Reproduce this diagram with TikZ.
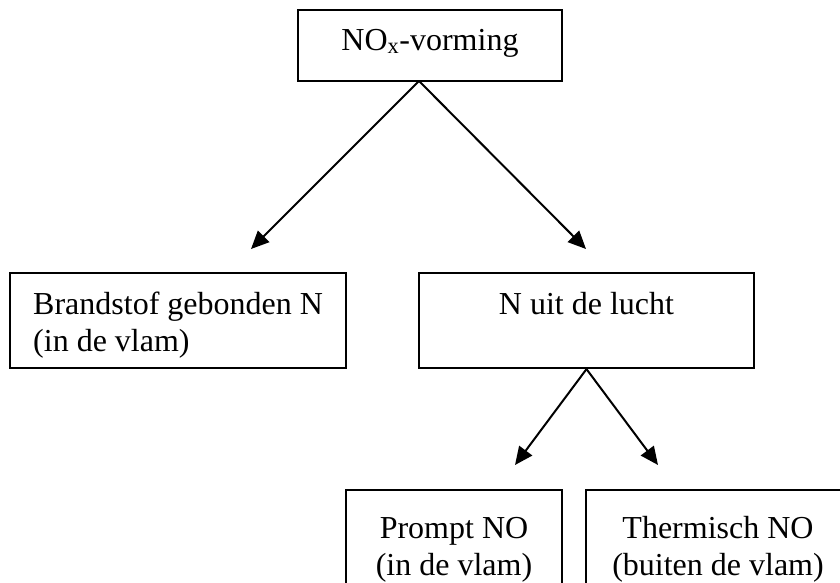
\documentclass[tikz,border=0pt]{standalone}
\usepackage{fontspec}
\setmainfont{Liberation Serif}
\usetikzlibrary{arrows.meta}
\begin{document}
\begin{tikzpicture}[x=1pt,y=-1pt,
  box/.style={draw,line width=2.2pt,inner sep=0pt,minimum width=#1},
  txt/.style={inner sep=0pt,font=\fontsize{32}{37}\selectfont},
  conn/.style={line width=2pt,-{Triangle[length=18pt,width=16pt]}}]
\useasboundingbox (0,0) rectangle (840,582);
\begin{scope}
\clip (0,0) rectangle (840,582);
% boxes (corner to corner)
\node[box=264pt,minimum height=71pt] (top) at (430,45.5) {};
\node[box=336pt,minimum height=95pt] (fuel) at (178,320.5) {};
\node[box=335pt,minimum height=95pt] (air) at (586.5,320.5) {};
\node[box=216pt,minimum height=120pt] (prompt) at (454,550) {};
\node[box=264pt,minimum height=120pt] (thermal) at (718,550) {};
\end{scope}
% texts
\node[txt,anchor=base] (ttop) at (430,50) {NO\textsubscript{x}-vorming};
\node[txt,anchor=base west] (tfuelA) at (33,314) {Brandstof gebonden N};
\node[txt,anchor=base west] (tfuelB) at (33,351) {(in de vlam)};
\node[txt,anchor=base] (tair) at (586.5,314) {N uit de lucht};
\node[txt,anchor=base] (tpromptA) at (454,538) {Prompt NO};
\node[txt,anchor=base] (tpromptB) at (454,575) {(in de vlam)};
\node[txt,anchor=base] (tthermA) at (718,538) {Thermisch NO};
\node[txt,anchor=base] (tthermB) at (718,575) {(buiten de vlam)};
% connectors
\coordinate (topfoot) at (419,81);
\coordinate (fueltip) at (251,249);
\coordinate (airtip) at (586,249);
\coordinate (prompttip) at (515,465);
\coordinate (thermtip) at (658,465);
\draw[conn] (topfoot) -- (fueltip);
\draw[conn] (topfoot) -- (airtip);
\draw[conn] (air.south) -- (prompttip);
\draw[conn] (air.south) -- (thermtip);
\end{tikzpicture}
\end{document}
